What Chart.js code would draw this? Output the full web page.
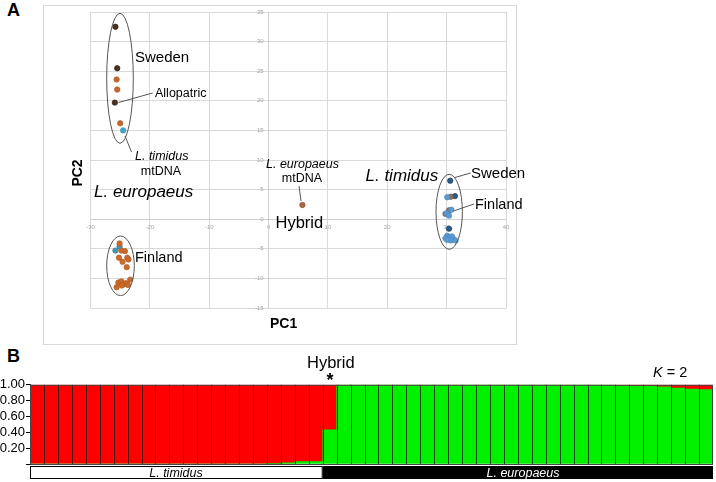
<!DOCTYPE html>
<html>
<head>
<meta charset="utf-8">
<script src="https://cdn.jsdelivr.net/npm/chart.js@4.4.1/dist/chart.umd.min.js"></script>
<style>
  body { margin: 0; background: #fff; font-family: Arial, "Liberation Sans", sans-serif; }
  #page { position: relative; width: 716px; height: 482px; overflow: hidden; }
  .lab { position: absolute; white-space: nowrap; line-height: 1; color: #000; }
  #boxA { position: absolute; left: 43px; top: 5px; width: 472px; height: 338px; border: 1px solid #d9d9d9; }
  #cA { position: absolute; left: 43px; top: 5px; }
  #cB { position: absolute; left: 0; top: 376px; }
</style>
</head>
<body>
<div id="page">
  <div id="boxA"></div>
  <canvas id="cA" width="473" height="339"></canvas>
  <canvas id="cB" width="716" height="106"></canvas>
</div>
<script>
// --- dati pannello A (PCA): coppie [PC1, PC2] per gruppo di colore
const swedenDark = [[-25.8, 32.5], [-25.5, 25.5], [-25.9, 19.7]];
const swedenOrange = [[-25.6, 23.6], [-25.5, 21.9], [-25.0, 16.2]];
const swedenTeal = [[-24.5, 15.0]];
const finlandOrange = [[-25.1, -4.1], [-24.8, -5.3], [-24.2, -5.4], [-25.2, -6.5], [-23.8, -6.5], [-23.6, -6.8],
  [-24.6, -7.2], [-23.9, -8.1], [-25.6, -11.5], [-25.3, -10.7], [-24.8, -10.5], [-24.4, -11.0],
  [-24.0, -10.8], [-23.7, -11.1], [-23.3, -10.2], [-24.7, -11.2]];
const finlandTeal = [[-25.1, -4.6], [-25.8, -5.3]];
const hybridPt = [[5.7, 2.4]];
const timidusBlue = [[30.1, 3.7], [30.0, 1.0], [30.8, 1.6], [30.4, 0.6], [30.1, -2.8], [29.8, -3.2], [30.4, -3.1],
  [30.9, -2.9], [31.2, -3.4], [30.7, -3.6], [30.1, -3.5], [31.5, -3.6]];
const timidusBrown = [[30.7, 3.8], [30.4, 1.5], [29.8, 0.9]];
const timidusDark = [[30.6, 6.5], [31.4, 3.9], [30.4, -1.6]];

// --- dati pannello B (STRUCTURE, K = 2): 21 L. timidus, 1 ibrido, 27 L. europaeus
const redShare = [
  1, 1, 1, 1, 1, 1, 1, 1, 1, 1, 1, 1, 1, 1, 1, 1, 1, 0.995, 0.985, 0.97, 0.97,
  0.57,
  0, 0, 0, 0, 0, 0, 0, 0, 0, 0, 0, 0, 0, 0, 0, 0, 0, 0, 0, 0.005, 0.012, 0.02, 0.02, 0.025, 0.04, 0.055, 0.06
];
const greenShare = [
  0, 0, 0, 0, 0, 0, 0, 0, 0, 0, 0, 0, 0, 0, 0, 0, 0, 0.005, 0.015, 0.03, 0.03,
  0.43,
  1, 1, 1, 1, 1, 1, 1, 1, 1, 1, 1, 1, 1, 1, 1, 1, 1, 1, 1, 0.995, 0.988, 0.98, 0.98, 0.975, 0.96, 0.945, 0.94
];
const yTicksB = [0, 0.2, 0.4, 0.6, 0.8, 1];

const page = document.getElementById('page');
const lab = (html, x, base, size, css = {}) => {
  const d = document.createElement('div');
  d.className = 'lab';
  d.innerHTML = html;
  d.style.left = x + 'px';
  d.style.top = (base - 0.83 * size) + 'px';
  d.style.fontSize = size + 'px';
  Object.assign(d.style, css);
  page.appendChild(d);
  return d;
};
const center = { transform: 'translateX(-50%)' };

// etichette pannello A
lab('A', 7, 15.5, 18, { fontWeight: 'bold' });
lab('Sweden', 135, 61, 15);
lab('Allopatric', 155, 97, 12.5);
lab('<i>L. timidus</i>', 135, 160, 12.5);
lab('mtDNA', 161, 175, 12.5, center);
lab('<i>L. europaeus</i>', 94, 197, 17);
lab('Finland', 135, 262.5, 14.5);
lab('<i>L. europaeus</i>', 266, 168, 12.5);
lab('mtDNA', 302, 182.3, 12.5, center);
lab('Hybrid', 275.5, 227.3, 16.5);
lab('<i>L. timidus</i>', 365.5, 181.5, 17);
lab('Sweden', 471, 177.3, 15);
lab('Finland', 475, 209, 14.5);
lab('PC1', 270, 328, 14, { fontWeight: 'bold' });
const pc2 = lab('PC2', 77, 173, 14, { fontWeight: 'bold' });
pc2.style.top = '173px';
pc2.style.transform = 'translate(-50%, -50%) rotate(-90deg)';

// etichette pannello B
lab('B', 7, 362, 18, { fontWeight: 'bold' });
lab('Hybrid', 307, 368, 16.5);
lab('*', 330, 386, 18, { fontWeight: 'bold', transform: 'translateX(-50%)' });
lab('<i>K</i> = 2', 653, 377.3, 14.5);
lab('<i>L. timidus</i>', 176, 477, 12.5, center);
lab('<i>L. europaeus</i>', 523, 477, 12.5, { transform: 'translateX(-50%)', color: '#fff' });

// ellissi e linee di richiamo (coordinate pagina)
const OX = 43, OY = 5;
const ellipses = [[120, 78.3, 13.3, 65], [120.5, 265.8, 13.8, 29.8], [449.2, 211.8, 13.2, 37.5]];
const leaders = [[152.7, 93, 118.5, 102.5], [125, 136, 131.5, 152], [299, 186, 301, 201],
  [470.5, 173, 455, 177.5], [474, 204, 453.5, 211]];
const annotA = {
  id: 'annotA',
  afterDatasetsDraw(chart) {
    const ctx = chart.ctx;
    ctx.save();
    ctx.strokeStyle = '#555';
    ctx.lineWidth = 1;
    ellipses.forEach(([cx, cy, rx, ry]) => {
      ctx.beginPath();
      ctx.ellipse(cx - OX, cy - OY, rx, ry, 0, 0, Math.PI * 2);
      ctx.stroke();
    });
    leaders.forEach(([x1, y1, x2, y2]) => {
      ctx.beginPath();
      ctx.moveTo(x1 - OX, y1 - OY);
      ctx.lineTo(x2 - OX, y2 - OY);
      ctx.stroke();
    });
    ctx.restore();
  }
};

const pts = arr => arr.map(([x, y]) => ({ x, y }));
const ds = (arr, bg, bd) => ({ data: pts(arr), backgroundColor: bg, borderColor: bd, borderWidth: 0.7, pointRadius: 2.7 });

new Chart(document.getElementById('cA'), {
  type: 'scatter',
  data: {
    datasets: [
      ds(swedenOrange, '#c5692c', '#a85a25'),
      ds(swedenDark, '#4e2f1c', '#222'),
      ds(swedenTeal, '#48a6cc', '#3a8cb0'),
      ds(finlandOrange, '#cb6a2a', '#b05c24'),
      ds(finlandTeal, '#4596b8', '#387e9c'),
      ds(hybridPt, '#a8684a', '#8a553c'),
      ds(timidusBlue, '#5b9bd5', '#4a86bd'),
      ds(timidusBrown, '#8e6e5c', '#6e5546'),
      ds(timidusDark, '#2c5a86', '#1e3f60')
    ]
  },
  options: {
    responsive: false,
    animation: false,
    devicePixelRatio: 1,
    layout: { padding: { left: 47.5, right: 10, top: 7, bottom: 36 } },
    plugins: { legend: { display: false }, tooltip: { enabled: false } },
    scales: {
      x: {
        type: 'linear', min: -30, max: 40, position: { y: 0 },
        grid: { color: '#d9d9d9', drawTicks: false },
        border: { color: '#d0d0d0' },
        ticks: { stepSize: 10, padding: 5, color: '#a6a6a6', font: { size: 6, family: 'Arial' }, maxRotation: 0 }
      },
      y: {
        type: 'linear', min: -15, max: 35, position: { x: 0 },
        grid: { color: '#d9d9d9', drawTicks: false },
        border: { color: '#d0d0d0' },
        // etichette allineate a destra sull'asse x=0: gli spazi finali le staccano dalla linea
        ticks: { stepSize: 5, color: '#a6a6a6', font: { size: 6, family: 'Arial' }, callback: v => v + '   ' }
      }
    }
  },
  plugins: [annotA]
});

// pannello B: separatori tra colonne, cornice e barra delle specie
const frameB = {
  id: 'frameB',
  afterDatasetsDraw(chart) {
    const { ctx, chartArea: a, scales: { x } } = chart;
    const n = redShare.length;
    const edge = i => (i === 0 ? a.left : i === n ? a.right : (x.getPixelForValue(i - 1) + x.getPixelForValue(i)) / 2);
    ctx.save();
    ctx.strokeStyle = 'rgba(30,30,30,0.8)';
    ctx.lineWidth = 1;
    for (let i = 1; i < n; i++) {
      const px = Math.round(edge(i)) + 0.5;
      ctx.beginPath();
      ctx.moveTo(px, a.top);
      ctx.lineTo(px, a.bottom);
      ctx.stroke();
    }
    ctx.strokeStyle = '#444';
    ctx.strokeRect(a.left + 0.5, a.top + 0.5, a.right - a.left - 1, a.bottom - a.top);
    const split = edge(21);
    ctx.fillStyle = '#fff';
    ctx.strokeStyle = '#000';
    ctx.fillRect(a.left, 90, split - a.left, 13);
    ctx.strokeRect(a.left + 0.5, 90.5, split - a.left - 1, 12);
    ctx.fillStyle = '#000';
    ctx.fillRect(split, 90, a.right - split, 13);
    ctx.restore();
  }
};

new Chart(document.getElementById('cB'), {
  type: 'bar',
  data: {
    labels: redShare.map((_, i) => String(i + 1)),
    datasets: [
      { data: greenShare, backgroundColor: '#00f000', borderWidth: 0 },
      { data: redShare, backgroundColor: '#ff0000', borderWidth: 0 }
    ]
  },
  options: {
    responsive: false,
    animation: false,
    devicePixelRatio: 1,
    datasets: { bar: { barPercentage: 1, categoryPercentage: 1 } },
    layout: { padding: { left: 0, right: 3, top: 8, bottom: 18 } },
    plugins: { legend: { display: false }, tooltip: { enabled: false } },
    scales: {
      x: { stacked: true, display: false },
      y: {
        stacked: true, min: 0, max: 1,
        afterFit: s => { s.width = 30; },
        afterBuildTicks: s => { s.ticks = yTicksB.map(v => ({ value: v })); },
        grid: { drawOnChartArea: false, tickLength: 4, color: '#000' },
        border: { color: '#222' },
        ticks: {
          autoSkip: false, padding: 1, color: '#000', font: { size: 13, family: 'Arial' },
          callback: v => (v === 0 ? '' : v.toFixed(2))
        }
      }
    }
  },
  plugins: [frameB]
});
</script>
</body>
</html>
